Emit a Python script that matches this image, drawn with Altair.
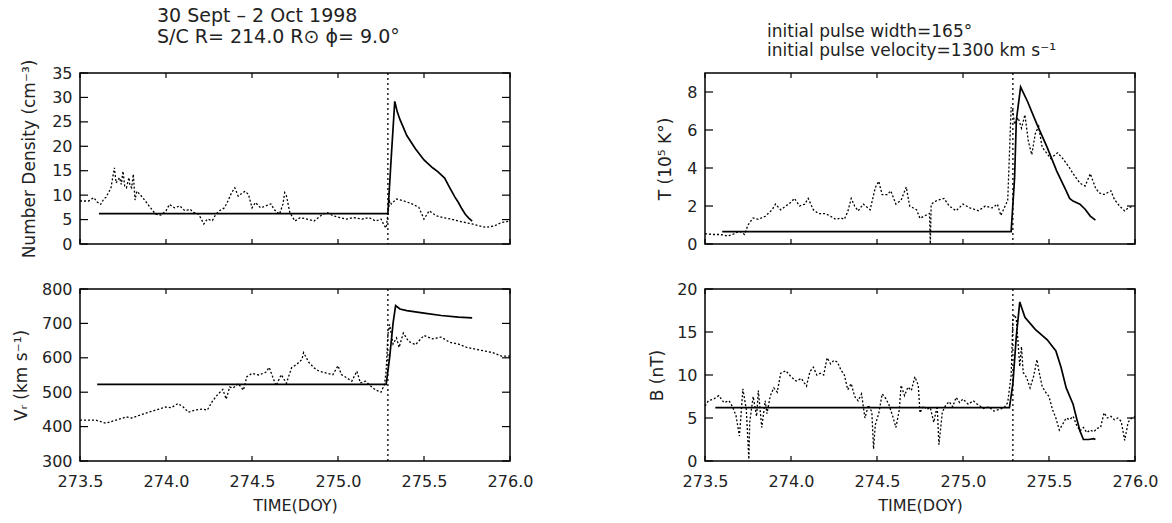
import altair as alt
import pandas as pd

# ---------------- data ----------------
X_DOMAIN = [273.5, 276.0]
X_TICKS = [273.5, 274.0, 274.5, 275.0, 275.5, 276.0]
SHOCK_T = [275.29]

# Number density (cm^-3)
dens_obs_t = [273.50, 273.55, 273.58, 273.60, 273.62, 273.64, 273.65, 273.67, 273.68, 273.70,
              273.71, 273.73, 273.74, 273.75, 273.76, 273.77, 273.785, 273.79, 273.80, 273.81,
              273.82, 273.83, 273.85, 273.88, 273.91, 273.94, 273.97, 274.00, 274.02, 274.05,
              274.08, 274.11, 274.14, 274.16, 274.19, 274.22, 274.24, 274.27, 274.29, 274.31,
              274.34, 274.36, 274.38, 274.40, 274.42, 274.43, 274.46, 274.48, 274.50, 274.52,
              274.55, 274.58, 274.61, 274.63, 274.66, 274.68, 274.69, 274.70, 274.72, 274.75,
              274.78, 274.82, 274.86, 274.91, 274.94, 274.97, 275.01, 275.05, 275.09, 275.14,
              275.18, 275.22, 275.25, 275.27, 275.28, 275.30, 275.31, 275.34, 275.385, 275.43,
              275.47, 275.50, 275.53, 275.57, 275.61, 275.66, 275.70, 275.74, 275.78, 275.82,
              275.86, 275.91, 275.95, 276.00]
dens_obs_v = [8.8, 8.8, 9.5, 8.6, 8.1, 9.3, 9.5, 10.8, 11.5, 15.6,
              12.5, 13.6, 12.2, 14.9, 11.8, 11.5, 13.6, 12.0, 11.5, 14.3,
              9.0, 10.8, 10.1, 8.8, 7.4, 6.1, 5.9, 6.8, 8.1, 7.4,
              7.8, 6.8, 7.1, 6.5, 6.1, 4.1, 5.1, 4.8, 6.1, 6.8,
              7.4, 8.8, 10.4, 11.5, 9.8, 10.1, 10.8, 10.1, 7.4, 8.5,
              7.4, 7.8, 8.2, 7.0, 6.1, 8.2, 10.5, 9.9, 6.4, 4.7,
              5.4, 5.1, 4.7, 6.1, 6.4, 5.8, 5.4, 5.1, 5.4, 5.1,
              5.4, 4.7, 5.1, 3.7, 3.3, 8.8, 8.2, 9.2, 8.8, 8.2,
              7.5, 5.1, 6.8, 5.8, 5.4, 5.1, 4.7, 4.4, 4.1, 3.7,
              3.4, 3.7, 4.4, 4.7]
dens_mod_t = [273.61, 275.29, 275.31, 275.33, 275.345, 275.36, 275.40, 275.45, 275.50, 275.55,
              275.58, 275.62, 275.65, 275.68, 275.70, 275.72, 275.74, 275.76, 275.78]
dens_mod_v = [6.2, 6.2, 18.0, 29.2, 27.0, 25.5, 22.2, 19.5, 17.2, 15.6,
              14.8, 13.5, 11.5, 9.6, 8.5, 7.2, 6.1, 5.3, 4.7]

# Radial velocity (km/s)
vr_obs_t = [273.50, 273.55, 273.59, 273.65, 273.71, 273.77, 273.80, 273.84, 273.90, 273.96,
            274.00, 274.03, 274.07, 274.10, 274.13, 274.17, 274.21, 274.24, 274.27, 274.30,
            274.33, 274.35, 274.37, 274.39, 274.42, 274.45, 274.47, 274.50, 274.54, 274.58,
            274.60, 274.62, 274.64, 274.67, 274.70, 274.73, 274.76, 274.79, 274.80, 274.83,
            274.86, 274.89, 274.93, 274.97, 275.00, 275.02, 275.05, 275.08, 275.11, 275.13,
            275.16, 275.19, 275.22, 275.25, 275.27, 275.28, 275.29, 275.30, 275.32, 275.34,
            275.355, 275.38, 275.41, 275.45, 275.50, 275.55, 275.60, 275.65, 275.70, 275.75,
            275.80, 275.85, 275.90, 275.95, 276.00]
vr_obs_v = [419, 419, 419, 410, 419, 428, 425, 432, 442, 451,
            457, 455, 467, 457, 442, 448, 451, 448, 474, 493,
            508, 480, 515, 512, 525, 506, 545, 555, 550, 558,
            572, 545, 519, 551, 526, 571, 581, 595, 615, 587,
            571, 561, 556, 551, 577, 551, 542, 532, 561, 527,
            532, 518, 506, 500, 522, 561, 668, 697, 640, 658,
            630, 672, 648, 638, 665, 655, 660, 645, 640, 630,
            625, 620, 615, 605, 605]
vr_mod_t = [273.60, 275.28, 275.30, 275.32, 275.335, 275.36, 275.40, 275.50, 275.60, 275.70, 275.78]
vr_mod_v = [523, 523, 600, 700, 752, 742, 737, 730, 723, 718, 716]

# Temperature (10^5 K)
t_obs_t = [273.50, 273.55, 273.58, 273.61, 273.63, 273.66, 273.70, 273.73, 273.75, 273.78,
           273.81, 273.85, 273.89, 273.91, 273.94, 273.97, 274.00, 274.02, 274.05, 274.08,
           274.10, 274.13, 274.16, 274.20, 274.23, 274.26, 274.29, 274.31, 274.33, 274.35,
           274.37, 274.39, 274.42, 274.46, 274.49, 274.51, 274.53, 274.56, 274.58, 274.61,
           274.64, 274.67, 274.69, 274.73, 274.75, 274.78, 274.805, 274.81, 274.815, 274.85,
           274.89, 274.92, 274.96, 275.00, 275.04, 275.09, 275.13, 275.17, 275.20, 275.22,
           275.24, 275.26, 275.28, 275.29, 275.30, 275.32, 275.34, 275.36, 275.38, 275.40,
           275.42, 275.44, 275.46, 275.51, 275.55, 275.58, 275.62, 275.64, 275.68, 275.71,
           275.74, 275.77, 275.79, 275.82, 275.86, 275.88, 275.91, 275.94, 275.96, 275.99]
t_obs_v = [0.54, 0.50, 0.50, 0.47, 0.42, 0.50, 0.68, 0.50, 1.00, 1.37,
           1.30, 1.46, 1.80, 2.10, 1.80, 2.00, 2.20, 2.40, 2.00, 2.10,
           2.40, 1.80, 1.60, 1.60, 1.46, 1.30, 1.37, 1.30, 1.70, 2.40,
           2.00, 1.74, 2.10, 1.80, 2.96, 3.30, 2.60, 2.60, 2.80, 2.10,
           2.30, 3.00, 2.00, 1.80, 1.35, 1.50, 1.60, 0.00, 2.10, 2.30,
           2.40, 2.00, 1.75, 2.10, 1.90, 1.75, 2.00, 1.90, 2.10, 1.50,
           1.90, 2.30, 7.20, 7.00, 6.30, 6.65, 6.10, 6.80, 5.40, 4.70,
           5.80, 6.20, 5.10, 4.50, 4.80, 4.50, 4.00, 3.70, 3.20, 3.05,
           3.70, 2.96, 2.70, 2.60, 2.80, 2.35, 2.00, 1.74, 1.90, 2.00]
t_mod_t = [273.60, 275.28, 275.30, 275.31, 275.335, 275.375, 275.43, 275.49, 275.545, 275.60,
           275.62, 275.64, 275.68, 275.71, 275.74, 275.77]
t_mod_v = [0.65, 0.65, 3.5, 6.5, 8.26, 7.5, 6.3, 5.07, 3.84, 2.8,
           2.4, 2.26, 2.1, 1.83, 1.47, 1.26]

# Magnetic field (nT)
b_obs_t = [273.50, 273.52, 273.55, 273.58, 273.61, 273.64, 273.66, 273.68, 273.70, 273.71,
           273.72, 273.74, 273.755, 273.76, 273.78, 273.80, 273.81, 273.83, 273.85, 273.86,
           273.88, 273.90, 273.92, 273.94, 273.97, 274.00, 274.03, 274.06, 274.09, 274.11,
           274.13, 274.15, 274.17, 274.19, 274.21, 274.23, 274.25, 274.27, 274.29, 274.31,
           274.33, 274.35, 274.37, 274.39, 274.41, 274.43, 274.45, 274.47, 274.48, 274.49,
           274.51, 274.53, 274.55, 274.57, 274.59, 274.61, 274.63, 274.64, 274.66, 274.68,
           274.70, 274.72, 274.74, 274.75, 274.77, 274.79, 274.81, 274.83, 274.85, 274.86,
           274.88, 274.90, 274.92, 274.94, 274.96, 274.98, 275.00, 275.03, 275.06, 275.09,
           275.12, 275.15, 275.18, 275.21, 275.24, 275.26, 275.28, 275.29, 275.30, 275.31,
           275.32, 275.33, 275.34, 275.35, 275.37, 275.39, 275.41, 275.43, 275.44, 275.46,
           275.48, 275.50, 275.52, 275.54, 275.56, 275.58, 275.60, 275.62, 275.64, 275.66,
           275.68, 275.70, 275.72, 275.74, 275.76, 275.78, 275.80, 275.82, 275.84, 275.86,
           275.88, 275.90, 275.92, 275.94, 275.96, 275.98, 276.00]
b_obs_v = [6.4, 7.0, 7.2, 7.6, 6.8, 7.0, 6.3, 5.3, 2.9, 5.5,
           8.4, 6.0, 0.2, 4.5, 7.5, 5.2, 8.2, 3.9, 7.0, 5.5,
           7.6, 8.5, 8.0, 10.2, 10.5, 9.8, 9.3, 9.6, 8.7, 10.4,
           10.9, 10.0, 10.2, 10.0, 12.0, 11.3, 11.7, 11.5, 10.6, 10.0,
           8.3, 9.0, 7.5, 7.0, 7.8, 5.0, 6.5, 5.7, 1.4, 4.2,
           5.5, 7.8, 7.3, 6.5, 5.3, 3.9, 6.0, 8.8, 7.6, 8.6,
           8.2, 9.8, 8.8, 5.6, 6.4, 6.0, 6.2, 4.5, 6.4, 1.9,
           5.7, 6.5, 6.9, 6.3, 7.4, 6.8, 7.2, 6.6, 7.0, 6.5,
           6.1, 6.3, 5.8, 6.0, 6.2, 6.8, 10.0, 16.5, 17.0, 16.5,
           13.8, 11.0, 13.3, 10.3, 9.7, 8.5, 9.8, 11.8, 10.6, 8.7,
           8.0, 7.5, 6.0, 5.0, 3.6, 4.3, 5.0, 4.8, 5.2, 4.2,
           3.5, 3.9, 3.3, 3.6, 3.4, 3.8, 3.9, 5.6, 5.0, 5.2,
           4.8, 5.0, 4.6, 2.4, 4.5, 5.0, 5.2]
b_mod_t = [273.56, 275.27, 275.29, 275.31, 275.33, 275.36, 275.42, 275.49, 275.54, 275.57,
           275.60, 275.64, 275.66, 275.68, 275.70, 275.73, 275.76, 275.77]
b_mod_v = [6.2, 6.2, 9.0, 14.5, 18.5, 16.7, 15.3, 14.1, 12.8, 10.9,
           8.5, 6.6, 5.0, 3.5, 2.5, 2.5, 2.6, 2.5]

# ---------------- styling ----------------
FONT = "DejaVu Sans"
TXT = "#222222"
W = 430
H_TOP = 171
H_BOT = 172


def panel(obs_t, obs_v, mod_t, mod_v, ydom, yticks, ytitle, tpad, height, show_x, title=None):
    assert len(obs_t) == len(obs_v), ytitle
    assert len(mod_t) == len(mod_v), ytitle
    xs = alt.Scale(domain=X_DOMAIN, nice=False, zero=False)
    ys = alt.Scale(domain=ydom, nice=False, zero=False)
    if show_x:
        xaxis = alt.Axis(values=X_TICKS, format=".1f", ticks=False, domain=False, grid=False,
                         labelFlush=False, labelOverlap=False, labelPadding=12,
                         title="TIME(DOY)", titlePadding=8)
    else:
        xaxis = alt.Axis(values=X_TICKS, ticks=False, domain=False, grid=False,
                         labels=False, title=None)
    yaxis = alt.Axis(values=yticks, format="d", ticks=False, domain=False, grid=False,
                     labelOverlap=False, labelPadding=8, title=ytitle, titlePadding=tpad,
                     titleFontSize=17)

    X = alt.X("t:Q", scale=xs, axis=xaxis)
    Y = alt.Y("v:Q", scale=ys, axis=yaxis)

    obs = alt.Chart(pd.DataFrame({"t": obs_t, "v": obs_v})).mark_line(
        color="black", strokeWidth=1.3, strokeDash=[2, 2]
    ).encode(x=X, y=Y)
    mod = alt.Chart(pd.DataFrame({"t": mod_t, "v": mod_v})).mark_line(
        color="black", strokeWidth=1.7
    ).encode(x=X, y=Y)
    shock = alt.Chart(pd.DataFrame({"t": SHOCK_T})).mark_rule(
        color="black", strokeWidth=1.3, strokeDash=[2, 3]
    ).encode(x=X)
    ytk = pd.DataFrame({"v": yticks})
    xtk = pd.DataFrame({"t": X_TICKS})
    yl = alt.Chart(ytk).mark_rule(color="black", strokeWidth=1.2).encode(
        y=Y, x=alt.value(0), x2=alt.value(8))
    yr = alt.Chart(ytk).mark_rule(color="black", strokeWidth=1.2).encode(
        y=Y, x=alt.value(W - 8), x2=alt.value(W))
    xb = alt.Chart(xtk).mark_rule(color="black", strokeWidth=1.2).encode(
        x=X, y=alt.value(height - 5), y2=alt.value(height))
    xt = alt.Chart(xtk).mark_rule(color="black", strokeWidth=1.2).encode(
        x=X, y=alt.value(0), y2=alt.value(5))
    props = dict(width=W, height=height)
    if title is not None:
        props["title"] = title
    return alt.layer(obs, mod, shock, yl, yr, xb, xt).properties(**props)


title_left = alt.TitleParams(
    text=["30 Sept \u2013 2 Oct 1998", "S/C R= 214.0 R\u2299  \u03d5= 9.0\u00b0"],
    anchor="start", frame="group", dx=77, offset=7, fontSize=19, lineHeight=21,
    fontWeight="normal", font=FONT, color=TXT)
title_right = alt.TitleParams(
    text=["initial pulse width=165\u00b0", "initial pulse velocity=1300 km s\u207b\u00b9"],
    anchor="start", frame="group", dx=62, offset=12, fontSize=17, lineHeight=19,
    fontWeight="normal", font=FONT, color=TXT)

p_dens = panel(dens_obs_t, dens_obs_v, dens_mod_t, dens_mod_v, [0, 35],
               [0, 5, 10, 15, 20, 25, 30, 35], "Number  Density  (cm\u207b\u00b3)", 13,
               H_TOP, False, title_left)
p_temp = panel(t_obs_t, t_obs_v, t_mod_t, t_mod_v, [0, 9],
               [0, 2, 4, 6, 8], "T  (10\u2075 K\u00b0)", 12, H_TOP, False, title_right)
p_vr = panel(vr_obs_t, vr_obs_v, vr_mod_t, vr_mod_v, [300, 800],
             [300, 400, 500, 600, 700, 800], "V\u1d63  (km  s\u207b\u00b9)", 11, H_BOT, True)
p_b = panel(b_obs_t, b_obs_v, b_mod_t, b_mod_v, [0, 20],
            [0, 5, 10, 15, 20], "B  (nT)", 10, H_BOT, True)

chart = alt.concat(
    p_dens, p_temp, p_vr, p_b, columns=2,
    spacing={"row": 45, "column": 195}, bounds="flush",
).properties(
    padding={"left": 11, "top": 6, "right": 5, "bottom": 5},
    background="white",
).configure_view(
    stroke="black", strokeWidth=1.5
).configure_axis(
    labelFont=FONT, titleFont=FONT, labelFontSize=16, titleFontSize=16,
    labelColor=TXT, titleColor=TXT, titleFontWeight="normal"
)

chart.save("out.html", embed_options={"renderer": "svg", "actions": False})
